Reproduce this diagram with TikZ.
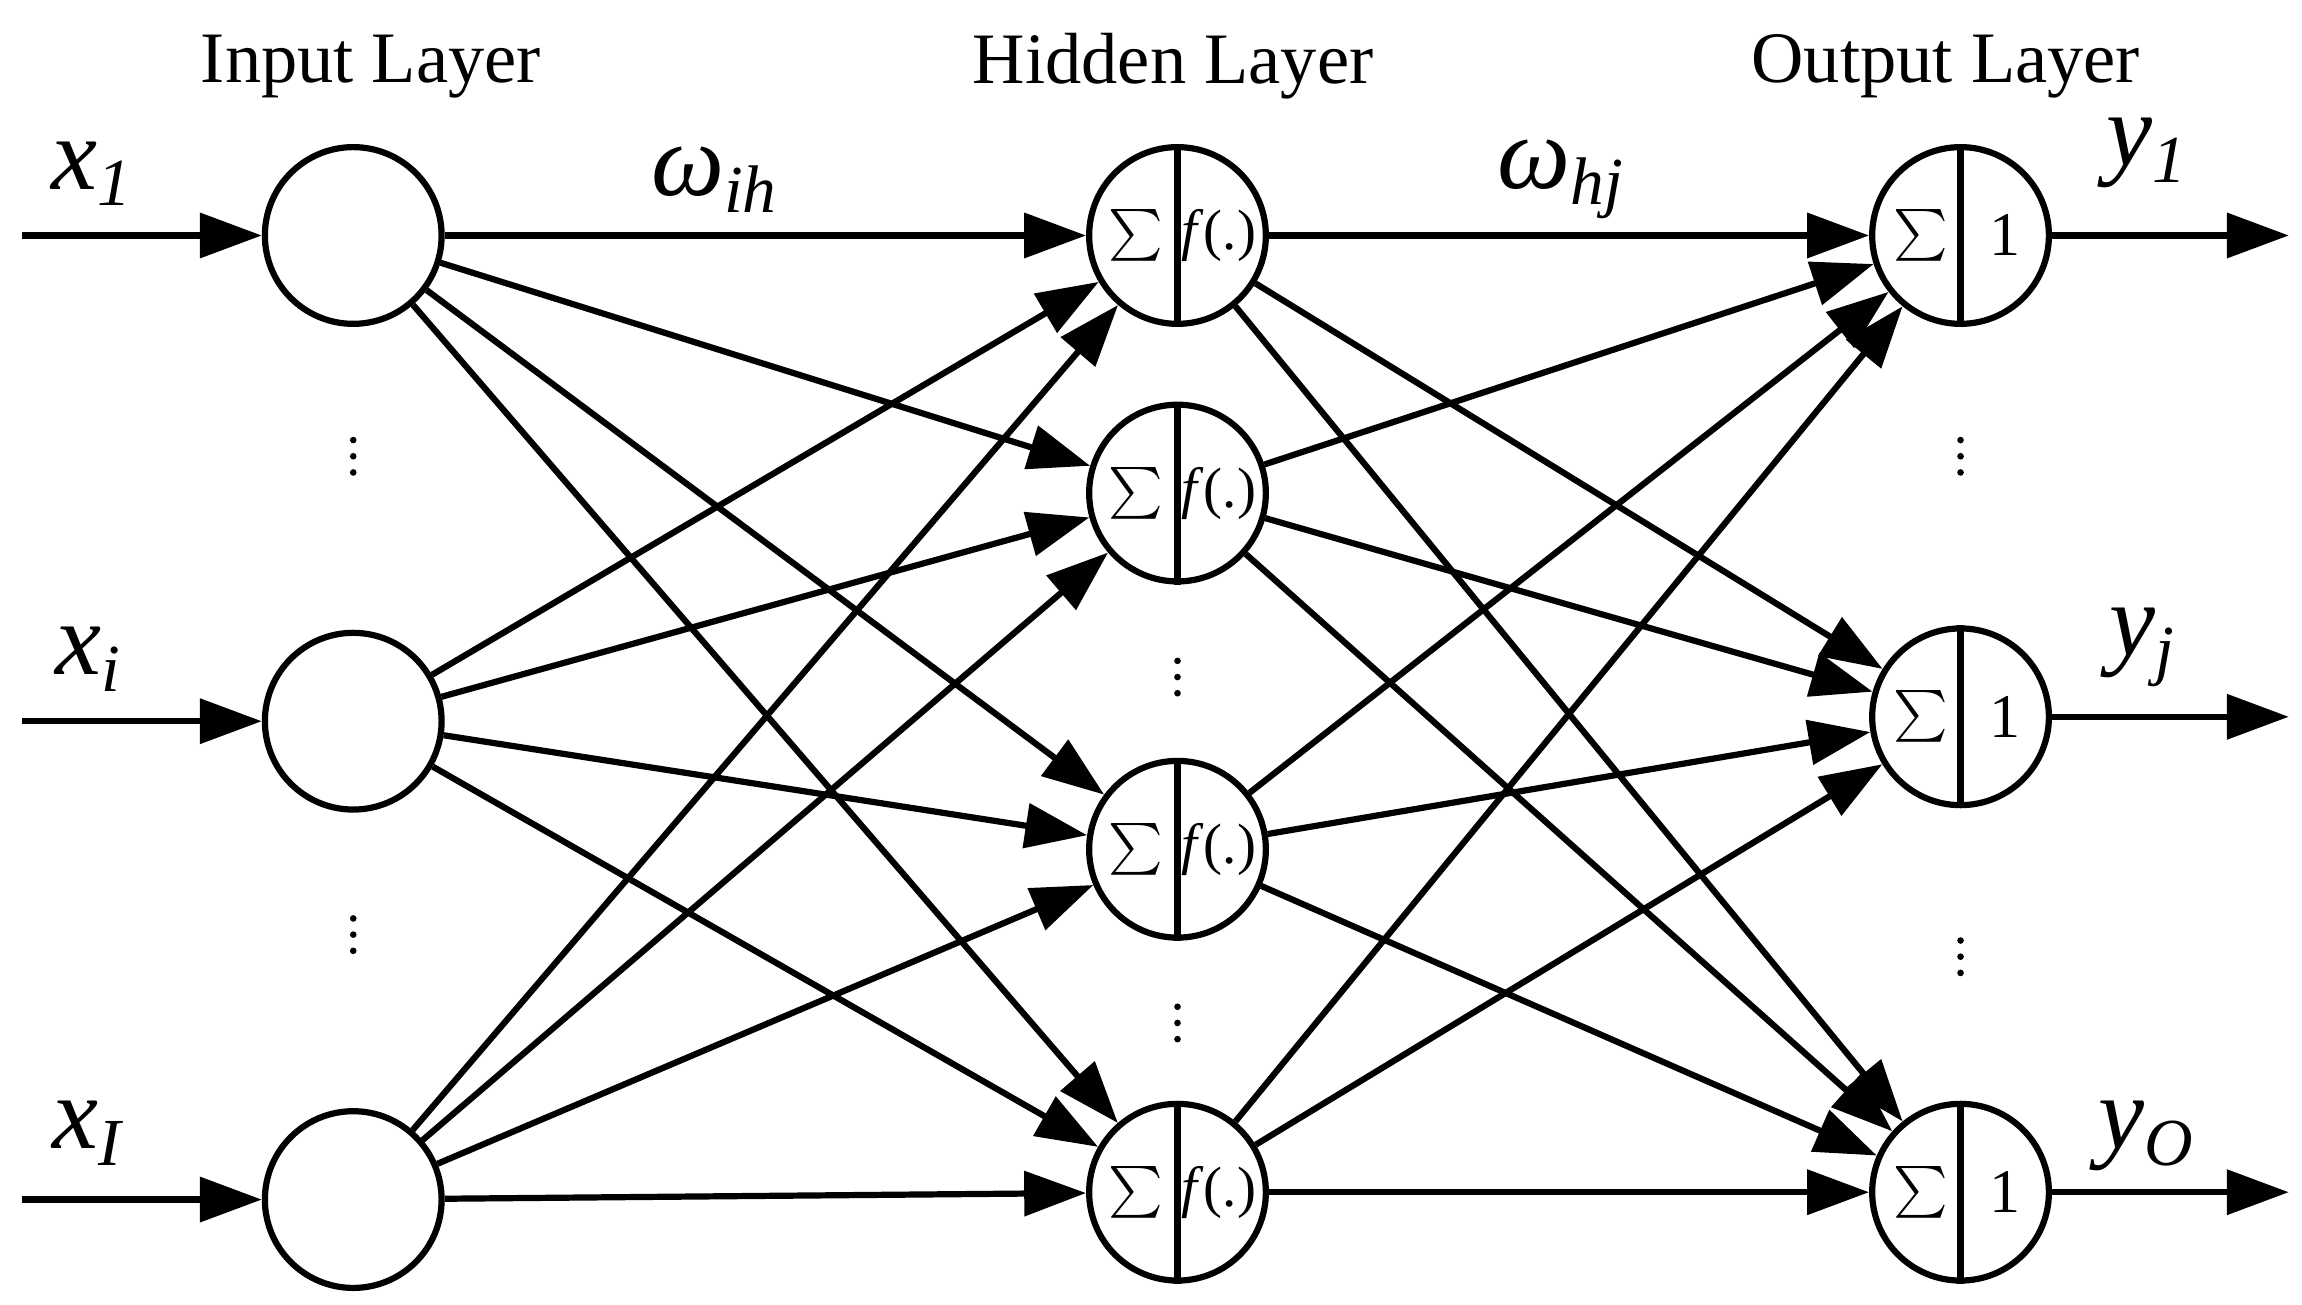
\documentclass[tikz,border=0pt]{standalone}
\usepackage{fontspec}
\setmainfont{Liberation Serif}
\usetikzlibrary{arrows.meta}
\newcommand{\ital}[2]{\textit{#1}\raisebox{-0.35ex}{\fontsize{13}{15}\selectfont\textit{#2}}}
\begin{document}
\begin{tikzpicture}[x=0.01cm,y=-0.01cm,
  neu/.style={circle,draw,line width=1.2pt,minimum size=1.2cm,inner sep=0},
  arr/.style={line width=1.2pt,-{Triangle[length=0.42cm,width=0.3cm]}},
  ttl/.style={font=\fontsize{14}{16}\selectfont},
  lab/.style={font=\fontsize{20}{22}\selectfont},
  dot/.style={circle,fill,inner sep=0,minimum size=0.045cm}]
\useasboundingbox (0,0) rectangle (1564,886);
\foreach \n/\y in {1/160,2/490,3/815}{\node[neu] (i\n) at (240,\y) {};}
\foreach \n/\y in {1/160,2/335,3/577,4/810}{
  \node[neu] (h\n) at (800,\y) {};
  \draw[line width=1.2pt] (h\n.north) -- (h\n.south);
  \node[font=\fontsize{13}{15}\selectfont,inner sep=0] at (772,\y) {$\sum$};
  \node[font=\fontsize{11}{13}\selectfont,inner sep=0] at (828,\y) {\textit{f}(.)};}
\foreach \n/\y in {1/160,2/487,3/810}{
  \node[neu] (o\n) at (1332,\y) {};
  \draw[line width=1.2pt] (o\n.north) -- (o\n.south);
  \node[font=\fontsize{13}{15}\selectfont,inner sep=0] at (1305,\y) {$\sum$};
  \node[font=\fontsize{12}{14}\selectfont,inner sep=0] at (1362,\y) {1};}
\foreach \a in {1,2,3}{\foreach \b in {1,2,3,4}{\draw[arr] (i\a) -- (h\b);}}
\foreach \a in {1,2,3,4}{\foreach \b in {1,2,3}{\draw[arr] (h\a) -- (o\b);}}
\coordinate (s1) at (15,160); \coordinate (s2) at (15,490); \coordinate (s3) at (15,815);
\coordinate (e1) at (1555,160); \coordinate (e2) at (1555,487); \coordinate (e3) at (1555,810);
\foreach \n in {1,2,3}{\draw[arr] (s\n) -- (i\n); \draw[arr] (o\n) -- (e\n);}
\node[ttl] at (252,45) {Input Layer};
\node[ttl] at (797,45) {Hidden Layer};
\node[ttl] at (1322,45) {Output Layer};
\node[lab] at (62,118) {\ital{x}{1}};
\node[lab] at (60,448) {\ital{x}{i}};
\node[lab] at (60,770) {\ital{x}{I}};
\node[lab] at (1458,104) {\ital{y}{1}};
\node[lab] at (1455,440) {\ital{y}{j}};
\node[lab] at (1458,772) {\ital{y}{O}};
\node[lab] at (485,122) {\ital{ω}{ih}};
\node[lab] at (1060,122) {\ital{ω}{hj}};
\foreach \x/\y [count=\k] in {240/310,240/635,800/460,800/695,1332/310,1332/650}{
  \node[dot] (d\k a) at (\x,\y-11) {};
  \node[dot] (d\k b) at (\x,\y) {};
  \node[dot] (d\k c) at (\x,\y+11) {};}
\end{tikzpicture}
\end{document}
